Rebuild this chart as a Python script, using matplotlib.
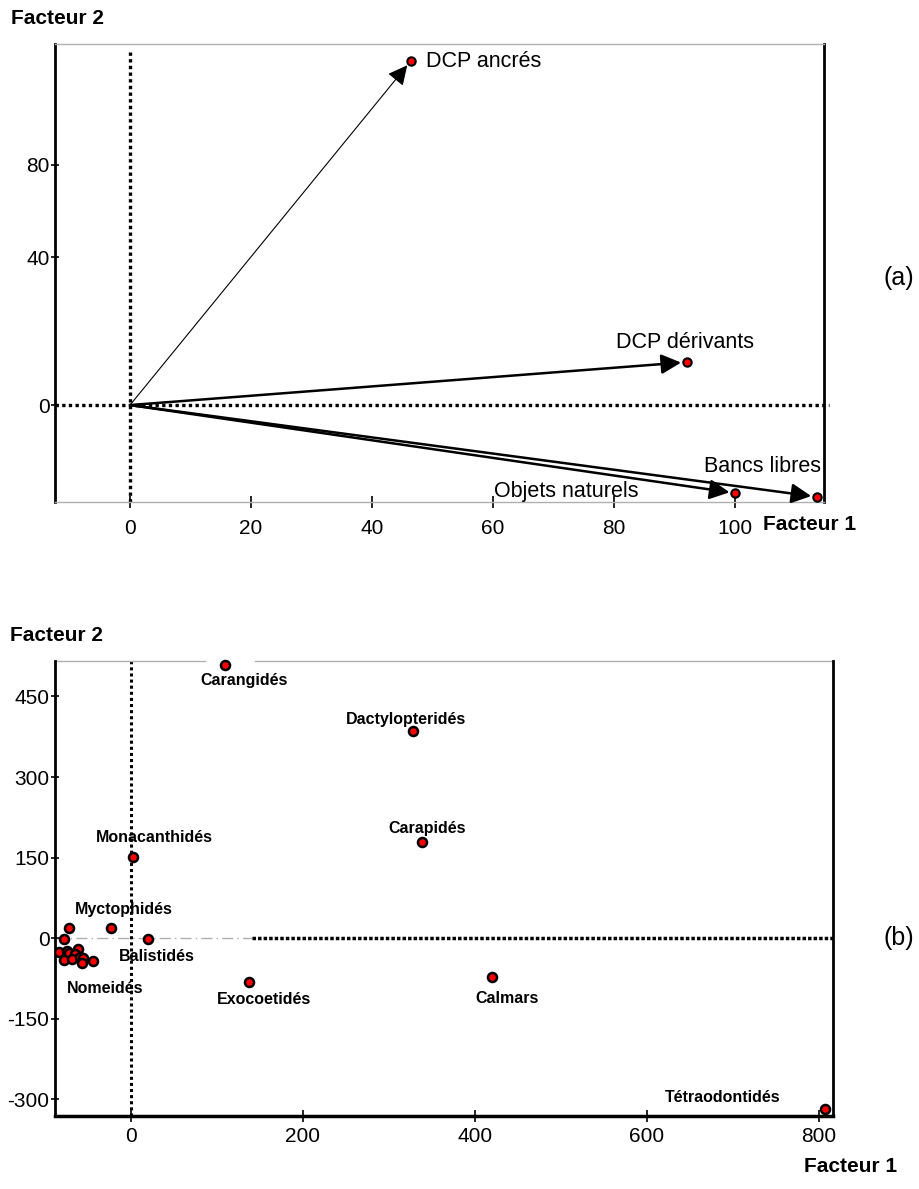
import matplotlib
matplotlib.use("Agg")
import matplotlib.pyplot as plt

plt.rcParams['font.family'] = ['Liberation Sans', 'DejaVu Sans']
plt.rcParams['axes.unicode_minus'] = False

# panel (a): variables (arrows from origin)
var_names = ['DCP ancrés', 'DCP dérivants', 'Objets naturels', 'Bancs libres']
var_f1 = [46.4, 92.0, 100.0, 113.5]
var_f2 = [93.0, 11.6, -23.8, -24.8]
var_lw = [0.8, 1.8, 1.8, 1.8]
# label anchor (x, y, ha)
var_lab_x = [48.9, 91.7, 60.2, 114.2]
var_lab_y = [92.8, 16.8, -23.4, -16.7]
var_lab_ha = ['left', 'center', 'left', 'right']

xticks_a = [0, 20, 40, 60, 80, 100]
yticks_a_pos = [0, 40, 65]
yticks_a_lab = ['0', '40', '80']

# panel (b): families
fam_names = ['Carangidés', 'Dactylopteridés', 'Carapidés', 'Monacanthidés',
             'Myctophidés', 'Balistidés', 'Exocoetidés', 'Calmars',
             'Tétraodontidés']
fam_f1 = [109.7, 328.0, 339.0, 2.4, -23.1, 20.6, 137.6, 419.6, 807.0]
fam_f2 = [508.0, 385.0, 179.0, 151.7, 19.9, -2.4, -81.0, -73.0, -318.0]
fam_lab_x = [132, 320, 345, 28, -8, 30, 155, 437, 688]
fam_lab_y = [480, 408, 205, 188, 54, -35, -115, -112, -296]

cluster_f1 = [-71.2, -77.0, -83.2, -74.3, -71.2, -61.5, -64.6, -77.4,
              -68.5, -58.8, -55.0, -56.8, -43.3]
cluster_f2 = [19.2, -0.6, -25.5, -23.6, -27.3, -21.0, -30.0, -39.7,
              -38.0, -34.8, -36.7, -46.0, -43.0]
nomeides_xy = (-30, -93)

xticks_b = [0, 200, 400, 600, 800]
yticks_b = [-300, -150, 0, 150, 300, 450]

W, H = 920, 1189
fig = plt.figure(figsize=(W / 100, H / 100), dpi=100)

# ---------- panel (a)
ax = fig.add_axes([55 / W, 1 - 502 / H, (824 - 55) / W, (502 - 44) / H])
ax.set_xlim(-12.4, 114.7)
ax.set_ylim(-26.2, 97.6)

ax.plot([-12.4, 115.6], [0, 0], color='black', ls=(0, (1, 1)), lw=2.4,
        clip_on=False, zorder=1)
ax.plot([0, 0], [-26.2, 96.0], color='black', ls=(0, (1, 1)), lw=2.4, zorder=1)

for x, y, lw in zip(var_f1, var_f2, var_lw):
    ax.annotate('', xy=(x, y), xytext=(0, 0),
                arrowprops=dict(arrowstyle='-|>', color='black', lw=lw,
                                mutation_scale=30, shrinkA=0, shrinkB=4),
                zorder=3)
ax.plot(var_f1, var_f2, 'o', ms=6, mfc='red', mec='black', mew=1.5,
        clip_on=False, zorder=4)
for name, x, y, ha in zip(var_names, var_lab_x, var_lab_y, var_lab_ha):
    ax.text(x, y, name, ha=ha, va='center', fontsize=15.5, clip_on=False)

for s in ['left', 'right']:
    ax.spines[s].set_linewidth(2)
    ax.spines[s].set_color('black')
for s in ['top', 'bottom']:
    ax.spines[s].set_linewidth(1)
    ax.spines[s].set_color('#b0b0b0')

ax.set_xticks(xticks_a)
ax.set_yticks(yticks_a_pos)
ax.set_yticklabels(yticks_a_lab)
ax.tick_params(axis='both', direction='inout', length=8, width=1.2,
               labelsize=15, colors='black')
ax.tick_params(axis='x', pad=8)
ax.tick_params(axis='y', length=6, pad=1)

fig.text(11 / W, 1 - 18 / H, 'Facteur 2', fontsize=15, fontweight='bold',
         ha='left', va='center')
fig.text(763 / W, 1 - 524 / H, 'Facteur 1', fontsize=15, fontweight='bold',
         ha='left', va='center')
fig.text(899 / W, 1 - 278 / H, '(a)', fontsize=18, ha='center', va='center')

# ---------- panel (b)
bx = fig.add_axes([55 / W, 1 - 1116 / H, (832.6 - 55) / W, (1116 - 661) / H])
bx.set_xlim(-88, 816)
bx.set_ylim(-331, 516)

bx.plot([-88, 141], [0, 0], color='#b0b0b0', ls=(0, (8, 3, 1, 3)), lw=1,
        zorder=1)
bx.plot([141, 816], [0, 0], color='black', ls=(0, (1, 0.6)), lw=2.5, zorder=1)
bx.axvline(0, color='black', ls=(0, (1, 1)), lw=2.2, zorder=1)

bx.plot(fam_f1, fam_f2, 'o', ms=6.5, mfc='red', mec='black', mew=1.8,
        clip_on=False, zorder=4)
bx.plot(cluster_f1, cluster_f2, 'o', ms=6.5, mfc='red', mec='black', mew=1.8,
        zorder=4)
for name, x, y in zip(fam_names, fam_lab_x, fam_lab_y):
    bx.text(x, y, name, ha='center', va='center', fontsize=11.5,
            fontweight='bold', zorder=5)
bx.text(nomeides_xy[0], nomeides_xy[1], 'Nomeidés', ha='center', va='center',
        fontsize=11.5, fontweight='bold', zorder=5)

for s in ['left', 'right']:
    bx.spines[s].set_linewidth(2)
    bx.spines[s].set_color('black')
bx.spines['bottom'].set_linewidth(2.5)
bx.spines['top'].set_visible(False)
# top border with a gap above Carangidés
bx.plot([0, (205 - 55) / (832.6 - 55)], [1, 1], color='#b0b0b0', lw=1,
        transform=bx.transAxes, clip_on=False)
bx.plot([(255 - 55) / (832.6 - 55), 1], [1, 1], color='#b0b0b0', lw=1,
        transform=bx.transAxes, clip_on=False)

bx.set_xticks(xticks_b)
bx.set_yticks(yticks_b)
bx.tick_params(axis='both', direction='inout', length=8, width=1.2,
               labelsize=15, colors='black')
bx.tick_params(axis='x', pad=4)
bx.tick_params(axis='y', length=6, pad=1)

fig.text(10 / W, 1 - 636 / H, 'Facteur 2', fontsize=15, fontweight='bold',
         ha='left', va='center')
fig.text(804 / W, 1 - 1167 / H, 'Facteur 1', fontsize=15, fontweight='bold',
         ha='left', va='center')
fig.text(899 / W, 1 - 938 / H, '(b)', fontsize=18, ha='center', va='center')

fig.savefig('out.png', dpi=100, facecolor='white')
